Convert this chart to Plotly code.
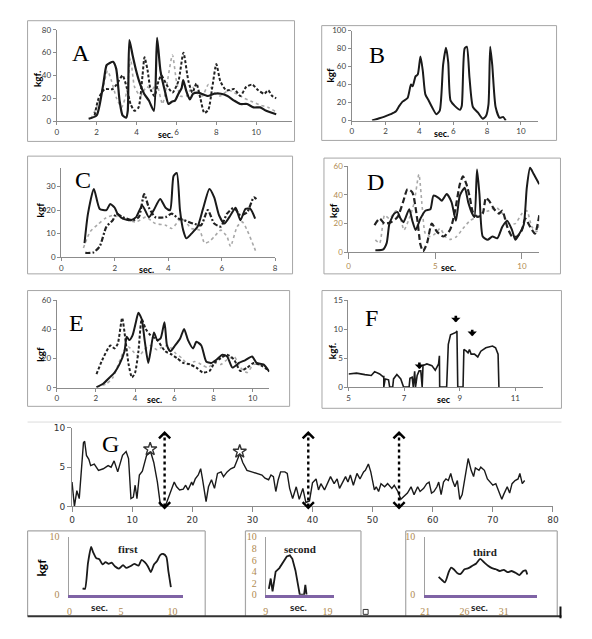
import plotly.graph_objects as go

W, H = 592, 639

# ---------------- DATA ----------------
# Panel A
A_solid_x = [1.6, 2.0, 2.33, 2.5, 2.66, 2.82, 2.98, 3.15, 3.3, 3.48, 3.56, 3.64, 3.8, 3.97, 4.13, 4.38, 4.62, 4.87, 5.03, 5.2, 5.44, 5.6, 5.77, 5.93, 6.1, 6.26, 6.34, 6.5, 6.67, 6.84, 7.08, 7.25, 7.57, 7.9, 8.23, 8.56, 8.89, 9.2, 9.54, 9.87, 10.2, 10.5, 11.0]
A_solid_y = [2, 5, 32, 49, 51, 52, 46, 18, 5, 3, 9, 71, 58, 45, 35, 24, 18, 9, 73, 44, 25, 15, 17, 18, 24, 29, 36, 26, 19, 24, 25, 24, 22, 24, 24, 22, 18, 15, 15, 12, 12, 9, 6]
A_dash_x = [1.9, 2.1, 2.4, 2.8, 3.0, 3.3, 3.5, 3.7, 3.9, 4.1, 4.3, 4.4, 4.55, 4.7, 4.9, 5.1, 5.25, 5.5, 5.8, 6.1, 6.35, 6.6, 6.8, 7.0, 7.2, 7.4, 7.6, 7.8, 8.0, 8.2, 8.5, 8.9, 9.2, 9.5, 9.8, 10.1, 10.4, 10.6, 10.8, 11.0]
A_dash_y = [5, 20, 28, 28, 32, 40, 30, 15, 9, 12, 40, 56, 45, 28, 22, 35, 40, 32, 25, 35, 60, 35, 25, 33, 20, 7, 10, 30, 50, 35, 27, 28, 22, 30, 32, 27, 24, 27, 22, 20]
A_gray_x = [1.7, 2.0, 2.3, 2.55, 2.75, 3.0, 3.25, 3.5, 3.7, 3.9, 4.2, 4.5, 4.8, 5.0, 5.3, 5.5, 5.8, 6.0, 6.2, 6.5, 6.8, 7.0, 7.3, 7.6, 7.9, 8.2, 8.6, 9.0, 9.4, 9.8, 10.2, 10.6, 11.0]
A_gray_y = [2, 12, 28, 44, 35, 20, 12, 25, 55, 30, 22, 30, 28, 33, 15, 30, 58, 35, 22, 22, 30, 25, 22, 32, 25, 22, 27, 24, 20, 17, 14, 12, 8]

# Panel B
B_x = [1.2, 1.55, 1.9, 2.3, 2.6, 2.8, 3.0, 3.3, 3.5, 3.6, 3.77, 3.9, 4.06, 4.2, 4.35, 4.55, 4.74, 5.0, 5.2, 5.4, 5.57, 5.7, 5.84, 6.1, 6.4, 6.5, 6.67, 6.8, 6.96, 7.16, 7.45, 7.74, 7.93, 8.08, 8.18, 8.3, 8.5, 8.74, 8.94, 9.1]
B_y = [0, 2, 4, 7, 10, 16, 21, 25, 40, 38, 49, 51, 71, 55, 29, 22, 15, 7, 11, 62, 81, 65, 22, 16, 12, 16, 80, 82, 47, 15, 9, 2, 5, 18, 82, 62, 15, 3, 4, 0]

# Panel C
C_solid_x = [0.87, 1.0, 1.22, 1.44, 1.69, 1.83, 2.0, 2.1, 2.3, 2.6, 2.8, 3.03, 3.28, 3.46, 3.7, 3.9, 4.07, 4.2, 4.32, 4.44, 4.56, 4.68, 4.87, 5.1, 5.3, 5.54, 5.72, 5.9, 6.1, 6.33, 6.52, 6.7, 6.89, 7.07, 7.25]
C_solid_y = [6, 18.5, 29, 20.5, 20, 22.6, 21, 18.5, 16.4, 15.7, 17, 22, 17, 20, 24.7, 21, 20, 34.5, 35.8, 20, 11.5, 8, 10, 13, 20.5, 29, 25.4, 17.8, 14.3, 17.8, 21, 15.7, 20.5, 20.5, 16.4]
C_dash_x = [0.9, 1.2, 1.44, 1.69, 1.93, 2.05, 2.3, 2.67, 2.9, 3.1, 3.28, 3.52, 3.9, 4.13, 4.38, 4.6, 4.93, 5.23, 5.48, 5.72, 5.97, 6.2, 6.46, 6.7, 6.95, 7.2, 7.3]
C_dash_y = [1.8, 2, 4.6, 13, 15.7, 18.5, 17, 15.7, 17, 26.8, 21, 17, 17, 18.5, 16.4, 15.7, 14.3, 13.6, 20, 14.3, 13, 18.5, 21, 17.8, 19, 25.4, 24.7]
C_gray_x = [0.83, 1.08, 1.38, 1.63, 1.93, 2.3, 2.8, 3.16, 3.52, 3.9, 4.13, 4.5, 4.87, 5.17, 5.36, 5.54, 5.72, 5.97, 6.2, 6.33, 6.58, 6.77, 6.95, 7.2, 7.3]
C_gray_y = [3.9, 10.8, 14, 16.4, 17.8, 16.4, 15, 17, 14.3, 13.6, 12.2, 16.4, 12.2, 11.5, 6, 6.7, 8.7, 11.5, 8.7, 4.6, 13, 15, 11.5, 4.6, 1.8]

# Panel D
D_solid_x = [1.55, 1.98, 2.2, 2.36, 2.64, 2.83, 3.0, 3.17, 3.5, 3.68, 3.87, 4.15, 4.43, 4.72, 4.9, 5.19, 5.38, 5.66, 5.94, 6.19, 6.42, 6.7, 6.9, 7.13, 7.26, 7.41, 7.55, 7.74, 8.02, 8.3, 8.58, 8.87, 9.15, 9.43, 9.62, 9.81, 10.1, 10.28, 10.47, 10.66, 11.0]
D_solid_y = [1.4, 1.8, 6.4, 20, 27, 28, 23.5, 21, 30, 22, 15.5, 23.5, 29, 30, 39.5, 38, 36, 40.6, 35, 22, 39.5, 45, 35, 27, 24.6, 57.7, 40.6, 11, 8.7, 11, 9.8, 17.8, 22, 15.5, 8.7, 12, 19, 45, 58.9, 55, 47.5]
D_dash_x = [1.5, 1.8, 2.08, 2.45, 2.83, 3.17, 3.4, 3.68, 3.96, 4.15, 4.3, 4.53, 4.8, 5.1, 5.47, 5.85, 6.13, 6.42, 6.6, 6.8, 7.0, 7.17, 7.45, 7.74, 7.92, 8.1, 8.4, 8.68, 8.87, 9.15, 9.43, 9.72, 10.0, 10.19, 10.47, 10.75, 11.0]
D_dash_y = [19, 23.5, 20, 21, 24.6, 36, 44, 41.8, 23.5, 5.2, 0.7, 6.4, 20, 14.4, 11, 15.5, 28, 47.5, 53, 47.5, 38, 28, 24.6, 27, 38, 36, 30, 27, 29, 17.8, 11, 11, 15.5, 23.5, 17.8, 13, 25.8]
D_gray_x = [1.55, 1.8, 2.08, 2.36, 2.74, 3.0, 3.2, 3.5, 3.77, 4.06, 4.25, 4.43, 4.72, 5.0, 5.28, 5.57, 5.85, 6.23, 6.6, 7.0, 7.36, 7.74, 8.1, 8.5, 8.87, 9.25, 9.62, 10.0, 10.28, 10.57, 10.85, 11.0]
D_gray_y = [8.7, 6.4, 25.8, 23.5, 29, 23.5, 15.5, 23.5, 33.8, 54.3, 31.5, 13, 11, 13, 16.6, 11, 9, 11, 16.6, 22, 24.6, 28, 29, 31.5, 27, 20, 20, 27, 29, 17.8, 14.4, 19]

# Panel E
E_solid_x = [2.03, 2.37, 2.7, 2.95, 3.2, 3.46, 3.57, 3.7, 3.87, 4.04, 4.17, 4.34, 4.5, 4.67, 4.79, 4.96, 5.13, 5.3, 5.5, 5.63, 5.8, 6.04, 6.3, 6.5, 6.7, 6.96, 7.13, 7.38, 7.63, 7.88, 8.13, 8.46, 8.7, 8.97, 9.3, 9.63, 9.97, 10.2, 10.55, 10.85]
E_solid_y = [0.4, 2.7, 7, 10.4, 16, 25, 35, 32.7, 36, 45, 51.5, 47, 31.5, 17, 25, 38, 32.7, 33.8, 45, 29, 25, 29, 33.8, 40.4, 32.7, 27, 31.5, 29, 18, 17, 19, 22.7, 21.5, 13.8, 17, 19, 21.5, 17, 16, 11]
E_dash_x = [2.03, 2.37, 2.74, 2.95, 3.12, 3.34, 3.5, 3.67, 3.84, 4.0, 4.17, 4.34, 4.54, 4.79, 5.13, 5.54, 5.88, 6.13, 6.46, 6.8, 7.13, 7.46, 7.8, 8.05, 8.38, 8.7, 9.05, 9.38, 9.72, 10.05, 10.47, 10.85]
E_dash_y = [9.3, 20.4, 29, 27, 30.4, 48, 33.8, 16, 7, 10.4, 25, 47, 40.4, 36, 32.7, 25, 22.7, 20.4, 17, 16, 13.8, 10.4, 11.5, 17, 20.4, 22.7, 19.3, 11.5, 13.8, 17, 15, 11.5]
E_gray_x = [2.03, 2.54, 2.87, 3.2, 3.46, 3.67, 3.96, 4.2, 4.46, 4.79, 5.13, 5.38, 5.7, 6.04, 6.38, 6.7, 7.04, 7.38, 7.71, 8.05, 8.38, 8.7, 9.05, 9.38, 9.72, 10.05, 10.55, 10.85]
E_gray_y = [0.4, 2.7, 7, 18, 26, 28, 24, 21.5, 26, 29, 26, 28, 29, 24, 20.4, 16, 18, 16, 13.8, 17, 16, 19.3, 21.5, 13.8, 10.4, 16, 15, 12.7]

# Panel F
F_x = [5.0, 5.29, 5.59, 5.82, 5.94, 6.12, 6.24, 6.27, 6.27, 6.32, 6.44, 6.48, 6.59, 6.62, 6.74, 6.88, 6.98, 7.18, 7.21, 7.29, 7.33, 7.38, 7.41, 7.47, 7.54, 7.6, 7.65, 7.68, 7.82, 8.0, 8.12, 8.24, 8.27, 8.28, 8.53, 8.59, 8.67, 8.86, 8.9, 8.93, 9.12, 9.15, 9.24, 9.3, 9.35, 9.41, 9.53, 9.65, 9.76, 9.94, 10.18, 10.29, 10.38, 10.41]
F_y = [2.26, 2.4, 2.15, 2.0, 2.66, 2.26, 1.8, 1.8, 0, 1.4, 1.25, 0, 0, 1.4, 2.15, 1.4, 0, 0, 1.5, 1.7, 0, 2.7, 0, 2.0, 2.8, 2.8, 0, 3.7, 4.0, 3.7, 2.9, 4.0, 5.4, 0, 0, 7.4, 9.05, 9.45, 9.7, 0, 0, 6.5, 6.2, 5.9, 6.5, 5.7, 5.7, 5.2, 6.2, 6.8, 7.1, 6.8, 5.7, 0]
F_arrow_x = [7.55, 8.86, 9.45]
F_arrow_y = [3.1, 11.2, 8.8]

# Panel G
G_x = [0.0, 0.4, 0.8, 1.2, 1.9, 2.1, 2.4, 2.8, 3.1, 3.7, 4.4, 5.2, 6.0, 6.5, 7.0, 7.6, 8.4, 9.0, 9.4, 9.8, 10.2, 10.5, 10.8, 11.2, 11.7, 12.4, 13.1, 13.6, 14.2, 14.7, 15.5, 16.0, 16.6, 17.0, 17.4, 17.9, 18.5, 18.9, 19.3, 19.9, 20.1, 20.5, 21.0, 21.4, 21.7, 22.3, 22.7, 23.2, 23.7, 24.2, 24.8, 25.2, 25.8, 26.4, 27.0, 27.6, 27.9, 28.4, 29.1, 29.9, 30.7, 31.6, 32.1, 32.7, 33.1, 33.5, 33.9, 34.3, 34.7, 35.4, 35.8, 36.2, 36.7, 37.3, 37.8, 38.4, 38.9, 39.5, 40.0, 40.6, 41.0, 41.4, 42.0, 42.5, 43.0, 43.6, 44.1, 44.5, 44.9, 45.5, 45.9, 46.3, 46.8, 47.4, 47.9, 48.5, 48.8, 49.3, 49.7, 50.3, 50.6, 51.0, 51.4, 52.0, 52.5, 53.2, 53.6, 54.2, 54.7, 55.3, 55.8, 56.4, 56.9, 57.5, 57.9, 58.5, 59.0, 59.4, 59.8, 60.2, 60.7, 61.0, 61.4, 61.8, 62.2, 62.6, 63.0, 63.3, 63.7, 64.1, 64.5, 64.9, 65.3, 65.9, 66.4, 66.8, 67.1, 67.7, 68.0, 68.6, 69.1, 69.5, 70.0, 70.5, 70.9, 71.5, 71.8, 72.4, 72.8, 73.2, 73.7, 74.2, 74.5, 74.9, 75.3]
G_y = [3.1, 0.0, 2.0, 1.0, 8.1, 8.3, 6.5, 6.0, 5.2, 5.4, 4.6, 4.8, 5.2, 5.0, 5.8, 4.4, 6.5, 7.0, 6.1, 1.0, 1.2, 2.7, 1.0, 4.0, 4.5, 6.5, 6.9, 5.6, 3.1, 0.2, 0.0, 1.0, 2.3, 3.1, 2.5, 2.1, 2.2, 2.7, 2.1, 3.1, 2.7, 3.5, 4.0, 4.8, 3.5, 0.6, 2.5, 3.4, 2.3, 4.2, 4.4, 3.8, 4.4, 4.8, 5.0, 6.0, 6.7, 5.6, 4.6, 4.4, 4.2, 4.0, 3.6, 3.4, 4.0, 3.8, 1.9, 3.4, 4.4, 4.4, 4.2, 2.3, 1.0, 2.5, 0.9, 2.3, 0.5, 0.7, 3.0, 3.5, 2.1, 2.9, 2.1, 2.9, 3.8, 2.9, 3.5, 2.3, 2.9, 3.8, 3.1, 4.0, 2.7, 4.2, 3.5, 4.4, 4.6, 5.4, 4.4, 2.1, 2.5, 1.9, 2.9, 2.5, 2.9, 2.3, 2.7, 1.9, 0.9, 1.3, 1.7, 2.5, 1.5, 2.5, 1.9, 2.3, 2.9, 3.1, 1.7, 1.9, 2.5, 3.1, 1.5, 3.1, 3.5, 3.3, 4.2, 3.3, 2.5, 3.3, 0.9, 1.5, 3.5, 6.1, 4.6, 3.8, 4.9, 4.6, 5.0, 4.6, 3.5, 3.1, 2.7, 2.9, 2.1, 0.9, 1.5, 2.5, 1.7, 2.9, 3.3, 3.5, 4.2, 2.9, 3.3]
G_arrow_x = [15.4, 39.3, 54.4]
G_arrow_top = 9.6
G_arrow_bottom = -0.4
G_star_x = [13.0, 27.9]
G_star_y = [7.3, 7.0]

# Bottom panels
first_x = [1.27, 1.5, 1.8, 2.1, 2.3, 2.6, 2.9, 3.2, 3.5, 3.8, 4.1, 4.4, 4.8, 5.2, 5.5, 5.9, 6.3, 6.7, 7.0, 7.3, 7.6, 7.9, 8.2, 8.5, 8.8, 9.1, 9.4, 9.6, 9.84]
first_y = [1.1, 1.0, 5.5, 8.2, 7.3, 6.3, 6.1, 5.2, 5.6, 5.3, 5.5, 4.9, 4.5, 5.1, 4.6, 4.9, 5.3, 5.0, 6.0, 5.6, 4.9, 3.9, 5.2, 5.8, 6.8, 7.0, 6.5, 4.0, 1.3]
second_x = [9.5, 9.8, 10.1, 10.6, 11.2, 11.8, 12.4, 12.9, 13.3, 13.8, 14.2, 14.5, 15.0, 15.2, 15.4, 15.6]
second_y = [1.0, 2.8, 0.6, 4.0, 4.6, 5.6, 6.6, 6.8, 6.2, 4.2, 2.0, 0.0, 0.0, 0.0, 1.7, 0.0]
third_x = [22.7, 23.0, 23.5, 24.0, 24.3, 24.7, 25.1, 25.5, 26.0, 26.5, 27.0, 27.5, 28.0, 28.5, 29.0, 29.5, 30.0, 30.5, 31.0, 31.5, 32.0, 32.5, 33.0, 33.5, 33.8, 34.0]
third_y = [3.1, 2.7, 2.15, 4.0, 4.7, 4.3, 3.7, 3.6, 4.4, 4.6, 5.0, 5.4, 6.2, 5.6, 5.0, 4.6, 4.4, 4.1, 4.3, 3.9, 4.1, 3.8, 3.4, 4.1, 4.2, 3.5]

# Tick definitions
A_xt, A_yt = [0, 2, 4, 6, 8, 10], [0, 20, 40, 60, 80]
B_xt, B_yt = [0, 2, 4, 6, 8, 10], [0, 20, 40, 60, 80, 100]
C_xt, C_yt = [0, 2, 4, 6, 8], [0, 10, 20, 30]
D_xt, D_yt = [0, 5, 10], [0, 20, 40, 60]
E_xt, E_yt = [0, 2, 4, 6, 8, 10], [0, 20, 40, 60]
F_xt, F_yt = [5, 7, 9, 11], [0, 5, 10, 15]
G_xt, G_yt = [0, 10, 20, 30, 40, 50, 60, 70, 80], [0, 5, 10]
first_xt, first_yt = [0, 5, 10], [0, 10]
second_xt, second_yt = [9, 19], [0, 2, 4, 6, 8, 10]
third_xt, third_yt = [21, 26, 31], [0, 10]

# ---------------- LAYOUT HELPERS ----------------
def px(x):
    return x / W

def py(y):
    return 1 - y / H

fig = go.Figure()
layout = {"annotations": []}

GRAY_AX = "#8c8c8c"
TICKFONT = dict(family="Lato", size=8, color="#404040")
TAN = "#b08a50"


def axes(n, xpx, xr, ypx, yr, xt, yt, xfont=None, yfont=None, style="excel"):
    xa = "xaxis" if n == 1 else f"xaxis{n}"
    ya = "yaxis" if n == 1 else f"yaxis{n}"
    xs = "x" if n == 1 else f"x{n}"
    ys = "y" if n == 1 else f"y{n}"
    if style == "excel":
        layout[xa] = dict(domain=[px(xpx[0]), px(xpx[1])], range=xr, anchor=ys,
                          tickvals=xt, showgrid=False, zeroline=False, showline=True,
                          linecolor=GRAY_AX, linewidth=1, ticks="outside", ticklen=3,
                          tickcolor=GRAY_AX, tickfont=xfont or TICKFONT)
        layout[ya] = dict(domain=[py(ypx[0]), py(ypx[1])], range=yr, anchor=xs,
                          tickvals=yt, showgrid=False, zeroline=False, showline=True,
                          linecolor=GRAY_AX, linewidth=1, ticks="outside", ticklen=3,
                          tickcolor=GRAY_AX, tickfont=yfont or TICKFONT)
    else:
        f = dict(family="Liberation Serif", size=10, color=TAN)
        layout[xa] = dict(domain=[px(xpx[0]), px(xpx[1])], range=xr, anchor=ys,
                          tickvals=xt, showgrid=False, zeroline=False, showline=True,
                          linecolor="#7f63a5", linewidth=2.5, ticks="outside", ticklen=6,
                          tickcolor="rgba(0,0,0,0)", tickfont=f)
        layout[ya] = dict(domain=[py(ypx[0]), py(ypx[1])], range=yr, anchor=xs,
                          tickvals=yt, showgrid=False, zeroline=False, showline=True,
                          linecolor="#a0a0a0", linewidth=1, ticks="outside", ticklen=7,
                          tickcolor="rgba(0,0,0,0)", tickfont=f)
    return xs, ys


def line(x, y, xs, ys, color="black", width=2, dash="solid", shape="spline"):
    fig.add_trace(go.Scatter(x=x, y=y, xaxis=xs, yaxis=ys, mode="lines",
                             line=dict(color=color, width=width, dash=dash, shape=shape,
                                       smoothing=0.6 if shape == "spline" else None),
                             showlegend=False, hoverinfo="skip"))


LGRAY = "#a8a8a8"

# Panel A
xs, ys = axes(1, (52.7, 292.6), [0, 11.8], (117.3, 24.3), [0, 80], A_xt, A_yt)
line(A_gray_x, A_gray_y, xs, ys, LGRAY, 1.6, "dot")
line(A_dash_x, A_dash_y, xs, ys, "#222", 2, "3px,2px")
line(A_solid_x, A_solid_y, xs, ys, "#1a1a1a", 2.2)

# Panel B
xs, ys = axes(2, (353.3, 543), [0, 11], (116.7, 25), [0, 100], B_xt, B_yt)
line(B_x, B_y, xs, ys, "#1a1a1a", 2)

# Panel C
xs, ys = axes(3, (57.3, 275.3), [0, 8], (256, 164.8), [0, 38], C_xt, C_yt)
line(C_gray_x, C_gray_y, xs, ys, LGRAY, 1.6, "dot")
line(C_dash_x, C_dash_y, xs, ys, "#222", 2.2, "5px,2px,2px,2px")
line(C_solid_x, C_solid_y, xs, ys, "#1a1a1a", 2)

# Panel D
dfont = dict(family="Lato", size=8, color=TAN)
xs, ys = axes(4, (350, 544.4), [0, 11], (251, 163.3), [0, 60], D_xt, D_yt, xfont=dfont, yfont=dfont)
layout["xaxis4"]["ticklen"] = 6
line(D_gray_x, D_gray_y, xs, ys, LGRAY, 1.6, "dot")
line(D_dash_x, D_dash_y, xs, ys, "#222", 2.2, "6px,3px")
line(D_solid_x, D_solid_y, xs, ys, "#1a1a1a", 2)

# Panel E
xs, ys = axes(5, (52.7, 269.3), [0, 10.85], (389, 300), [0, 60], E_xt, E_yt)
line(E_gray_x, E_gray_y, xs, ys, LGRAY, 1.6, "dot")
line(E_dash_x, E_dash_y, xs, ys, "#222", 2, "3px,2px")
line(E_solid_x, E_solid_y, xs, ys, "#1a1a1a", 2)

# Panel F
xs, ys = axes(6, (350, 548.3), [5, 12], (388.3, 300), [0, 15], F_xt, F_yt)
line(F_x, F_y, xs, ys, "#1a1a1a", 1.6, shape="linear")
for ax_x, ax_y in zip(F_arrow_x, F_arrow_y):
    layout["annotations"].append(dict(
        x=ax_x, y=ax_y, xref=xs, yref=ys, ax=0, ay=-8, showarrow=True,
        arrowhead=1, arrowsize=0.6, arrowwidth=2.6, arrowcolor="black", text=""))

# Panel G
G_YPX = (510, 430)
G_YR = [0, 10]
gfont = dict(family="DejaVu Sans", size=9, color="#333")
xs, ys = axes(7, (68.3, 558.3), [0, 80], G_YPX, G_YR, G_xt, G_yt, xfont=gfont, yfont=gfont)
layout["xaxis7"]["ticklen"] = 5
layout["yaxis7"]["ticklen"] = 4
line(G_x, G_y, xs, ys, "#1a1a1a", 1.4, shape="linear")

# paper-fraction position of a G data value below the axis (annotations outside range are hidden)
g_dom = layout["yaxis7"]["domain"]
def g_paper(v):
    return g_dom[0] + (v - G_YR[0]) / (G_YR[1] - G_YR[0]) * (g_dom[1] - g_dom[0])

for gx in G_arrow_x:
    fig.add_trace(go.Scatter(x=[gx, gx], y=[0, G_arrow_top - 0.3], xaxis=xs, yaxis=ys,
                             mode="lines", line=dict(color="black", width=2.4, dash="dot"),
                             showlegend=False, hoverinfo="skip"))
    layout["annotations"].append(dict(x=gx, y=G_arrow_top, xref=xs, yref=ys, ax=0, ay=6,
                                      showarrow=True, arrowhead=4, arrowsize=1.2,
                                      arrowwidth=1.8, arrowcolor="black", text=""))
    layout["annotations"].append(dict(x=gx, y=g_paper(G_arrow_bottom), xref=xs, yref="paper",
                                      ax=0, ay=-7, showarrow=True, arrowhead=4, arrowsize=1.2,
                                      arrowwidth=1.8, arrowcolor="black", text=""))
fig.add_trace(go.Scatter(x=G_star_x, y=G_star_y, xaxis=xs, yaxis=ys, mode="markers",
                         marker=dict(symbol="star-open", size=10, color="#333",
                                     line=dict(width=1.4, color="#333")),
                         showlegend=False, hoverinfo="skip"))

# Bottom panels
xs, ys = axes(8, (65.7, 181.2), [0, 11], (600, 540.7), [0, 10], first_xt, first_yt, style="small")
line(first_x, first_y, xs, ys, "#1a1a1a", 1.8)
xs, ys = axes(9, (265.7, 335), [9, 20], (600, 541), [0, 10], second_xt, second_yt, style="small")
layout["yaxis9"]["ticklen"] = 6
line(second_x, second_y, xs, ys, "#1a1a1a", 1.8, shape="linear")
xs, ys = axes(10, (428.3, 541.7), [21, 35.2], (600, 541), [0, 10], third_xt, third_yt, style="small")
line(third_x, third_y, xs, ys, "#1a1a1a", 1.8)

# ---------------- Decorations ----------------
shapes = []
def box(x0, y0, x1, y1, color="#a6a6a6", width=1):
    shapes.append(dict(type="rect", xref="paper", yref="paper", x0=px(x0), x1=px(x1),
                       y0=py(y1), y1=py(y0), line=dict(color=color, width=width),
                       fillcolor="rgba(0,0,0,0)", layer="below"))

def hline(x0, x1, y, color, width):
    shapes.append(dict(type="line", xref="paper", yref="paper", x0=px(x0), x1=px(x1),
                       y0=py(y), y1=py(y), line=dict(color=color, width=width)))

def vline(x, y0, y1, color, width):
    shapes.append(dict(type="line", xref="paper", yref="paper", x0=px(x), x1=px(x),
                       y0=py(y0), y1=py(y1), line=dict(color=color, width=width)))

box(23, 15, 295, 138)
box(322.7, 20, 562, 137)
box(23, 153, 293, 273)
box(325, 155, 566, 273)
box(23, 290, 290, 408)
box(323, 290, 567, 410)
hline(23, 567, 424, "#dcdcdc", 1)
for (l, r) in [(23, 204), (245, 362.7), (408.3, 562.7)]:
    hline(l, r, 535, "#a6a6a6", 1.2)
    vline(l, 535, 622, "#a6a6a6", 1.2)
    vline(r, 535, 622, "#a6a6a6", 1.2)
hline(23, 567, 622, "#333333", 2)
vline(566, 612, 624, "#111", 2)
box(365, 615, 370, 620, color="#333", width=1)

annos = layout["annotations"]
def text(x, y, s, size=10, family="Lato", color="black", bold=False, angle=0):
    annos.append(dict(x=px(x), y=py(y), xref="paper", yref="paper", showarrow=False,
                      text=f"<b>{s}</b>" if bold else s, textangle=angle,
                      font=dict(family=family, size=size, color=color),
                      xanchor="center", yanchor="middle"))

SERIF = "Liberation Serif"
for s, x, y in [("A", 77, 48), ("B", 379, 50), ("C", 79, 177), ("D", 378, 179),
                ("E", 73, 323), ("F", 373, 318), ("G", 108, 446)]:
    text(x, y, s, size=24, family=SERIF)

for s, x, y in [("kgf.", 32, 74), ("kgf", 331, 70), ("kgf", 36, 208), ("kgf", 334, 208),
                ("kgf", 36, 355), ("kgf.", 334, 352)]:
    text(x, y, s, size=10, bold=True, angle=-90)
text(37, 572, "kgf", size=12, bold=True, angle=-90)

for s, x, y in [("sec.", 164, 131), ("sec.", 445, 130), ("sec.", 144, 269), ("sec.", 452, 266),
                ("sec.", 152, 401.5), ("sec", 447, 401.5)]:
    text(x, y, s, size=9, bold=True)

for x, y in [(96, 613), (299, 613), (483, 613)]:
    text(x, y, "sec.", size=10, bold=True, color="#222")

text(125, 553, "first", size=11, family=SERIF, bold=True, color="#222")
text(301, 553, "second", size=11, family=SERIF, bold=True, color="#222")
text(489, 556, "third", size=11, family=SERIF, bold=True, color="#222")

layout["shapes"] = shapes
fig.update_layout(**layout)
fig.update_layout(width=W, height=H, margin=dict(l=0, r=0, t=0, b=0),
                  paper_bgcolor="white", plot_bgcolor="rgba(0,0,0,0)", showlegend=False)

fig.write_html("out.html")
